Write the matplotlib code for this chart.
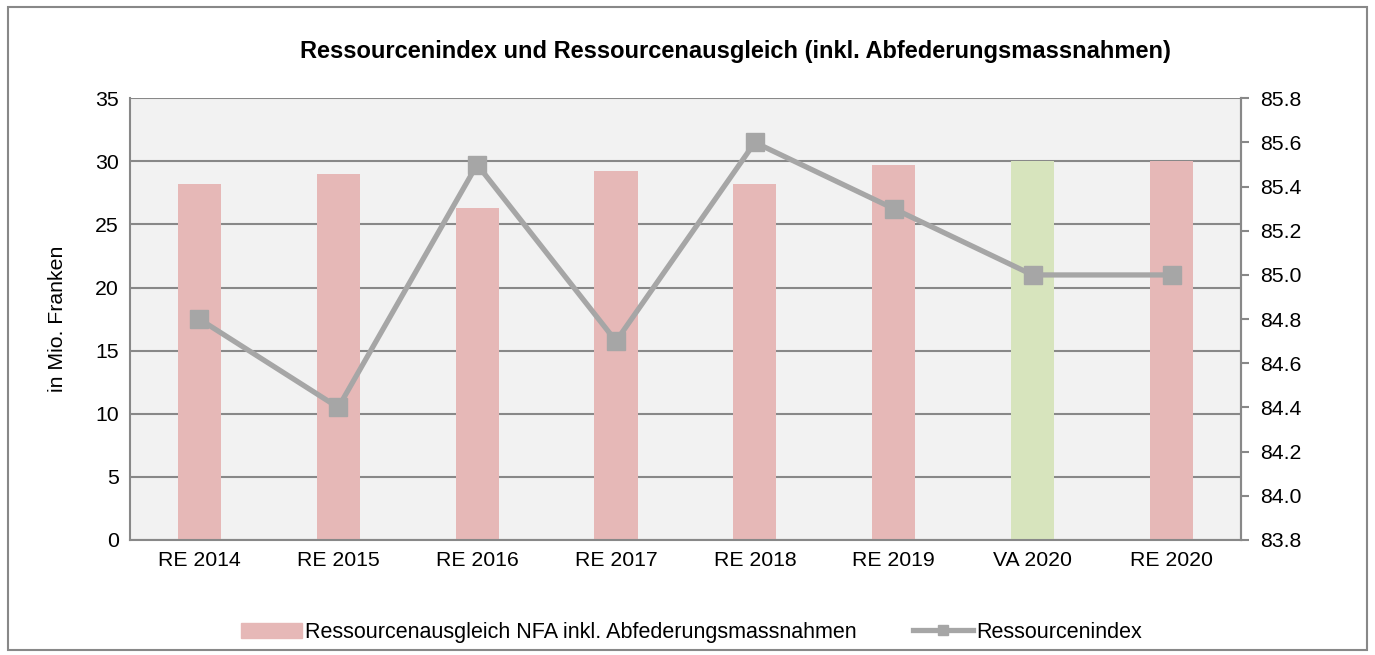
import matplotlib.pyplot as plt
from matplotlib.patches import Rectangle
from matplotlib.lines import Line2D

plt.rcParams['font.family'] = ['Liberation Sans', 'DejaVu Sans']

# daten
jahre = ['RE 2014', 'RE 2015', 'RE 2016', 'RE 2017', 'RE 2018', 'RE 2019', 'VA 2020', 'RE 2020']
ausgleich = [28.2, 29.0, 26.3, 29.2, 28.2, 29.7, 30.0, 30.0]
index_werte = [84.8, 84.4, 85.5, 84.7, 85.6, 85.3, 85.0, 85.0]
bar_farben = ['#E6B8B7', '#E6B8B7', '#E6B8B7', '#E6B8B7', '#E6B8B7', '#E6B8B7', '#D7E4BD', '#E6B8B7']

grau = '#888888'

fig = plt.figure(figsize=(13.75, 6.55), dpi=100)
ax = fig.add_axes([0.0945, 0.1756, 0.808, 0.6744])
ax.set_facecolor('#F2F2F2')

x = range(len(jahre))
ax.bar(x, ausgleich, width=0.31, color=bar_farben, zorder=2)
ax.set_xlim(-0.5, len(jahre) - 0.5)
ax.set_ylim(0, 35)
ax.set_yticks(range(0, 36, 5))
ax.yaxis.grid(True, color=grau, linewidth=1.5, zorder=1)
ax.set_axisbelow(True)
ax.set_xticks(list(x))
ax.set_xticklabels(jahre)
ax.tick_params(axis='both', length=0, labelsize=15.3, pad=8)
ax.set_ylabel('in Mio. Franken', fontsize=15.3, labelpad=20)

ax.spines['top'].set_visible(False)
for s in ['left', 'bottom', 'right']:
    ax.spines[s].set_color(grau)
    ax.spines[s].set_linewidth(1.5)

ax2 = ax.twinx()
ax2.plot(list(x), index_werte, color='#A6A6A6', linewidth=3.8, marker='s', markersize=12.5, zorder=3)
ax2.set_ylim(83.8, 85.8)
ax2.set_yticks([83.8 + 0.2 * i for i in range(11)])
ax2.set_yticklabels(['%.1f' % (83.8 + 0.2 * i) for i in range(11)])
ax2.tick_params(axis='y', length=6, width=1.5, color=grau, labelsize=15.3, pad=8)
for s in ['top', 'left', 'bottom']:
    ax2.spines[s].set_visible(False)
ax2.spines['right'].set_color(grau)
ax2.spines['right'].set_linewidth(1.5)

fig.text(0.535, 0.922, 'Ressourcenindex und Ressourcenausgleich (inkl. Abfederungsmassnahmen)',
         ha='center', va='center', fontsize=17, fontweight='bold')

# legende
handles = [Rectangle((0, 0), 1, 1, color='#E6B8B7'),
           Line2D([0], [0], color='#A6A6A6', linewidth=3.8, marker='s', markersize=7)]
fig.legend(handles, ['Ressourcenausgleich NFA inkl. Abfederungsmassnahmen', 'Ressourcenindex'],
           loc='center', bbox_to_anchor=(0.503, 0.035), ncol=2, frameon=False, fontsize=15.5,
           handlelength=2.8, handletextpad=0.15, columnspacing=2.6)

fig.patches.append(Rectangle((8 / 1375, 5 / 655), 1359 / 1375, 643 / 655, transform=fig.transFigure,
                             fill=False, edgecolor=grau, linewidth=1.5))

fig.savefig('out.png', dpi=100)
